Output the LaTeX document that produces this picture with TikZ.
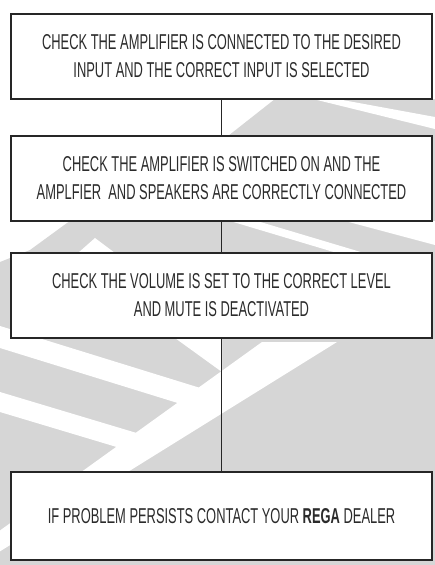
\documentclass[tikz,border=0pt]{standalone}
\usepackage{fontspec}
\setmainfont[FakeStretch=0.6]{Liberation Sans}
\usetikzlibrary{positioning}
\definecolor{markgrey}{HTML}{D6D6D6}
\definecolor{boxline}{HTML}{262626}
\definecolor{boxtext}{HTML}{2B2B2B}
\tikzset{
    checkbox/.style={draw=boxline, line width=2.8pt, fill=white, outer sep=0pt, inner sep=0pt,
        minimum width=421pt, minimum height=85pt, align=center, text=boxtext,
        font=\fontsize{21.5}{28}\selectfont},
    link/.style={draw=boxline, line width=1.4pt},
}

\begin{document}
\begin{tikzpicture}[x=1pt, y=-1pt, node distance=37pt]
        \useasboundingbox (0,0) rectangle (435,565);
        % watermark behind the boxes
        \begin{scope}
            \clip (0,0) rectangle (435,565);
            \fill[markgrey] (275,99) -- (435,99) -- (435,565) -- (0,565) -- (0,262)
                -- (30,250) -- (67,223) -- (228,136) -- cycle;
            \fill[white] (313,99) -- (337,99) -- (435,117) -- (435,129) -- cycle;
            \fill[white] (230,221) -- (257,221) -- (364,253) -- (337,253) -- cycle;
            \fill[white] (345,221) -- (435,221) -- (435,245) -- cycle;
            \fill[white] (95,238) -- (115,253) -- (78,253) -- cycle;
            \fill[white] (175,338) -- (222,338) -- (222,372) -- cycle;
            \fill[white] (0,326) -- (210,391) -- (210,413) -- (0,348) -- cycle;
            \fill[white] (0,392) -- (150,437) -- (150,457) -- (0,412) -- cycle;
            \fill[white] (262,342) -- (337,342) -- (-22,565) -- (-48,565) -- cycle;
        \end{scope}

        \node[checkbox] (amp) at (221.5,56.5)
            {CHECK THE AMPLIFIER IS CONNECTED TO THE DESIRED\\INPUT AND THE CORRECT INPUT IS SELECTED};
        \node[checkbox, below=of amp] (power)
            {CHECK THE AMPLIFIER IS SWITCHED ON AND THE\\AMPLFIER\ \ AND SPEAKERS ARE CORRECTLY CONNECTED};
        \node[checkbox, below=32pt of power] (volume)
            {CHECK THE VOLUME IS SET TO THE CORRECT LEVEL\\AND MUTE IS DEACTIVATED};
        \node[checkbox, below=134pt of volume, minimum height=88pt] (dealer)
            {IF PROBLEM PERSISTS CONTACT YOUR \textbf{REGA} DEALER};

        \draw[link] (amp) -- (power);
        \draw[link] (power) -- (volume);
        \draw[link] (volume) -- (dealer);
    \end{tikzpicture}
\end{document}
